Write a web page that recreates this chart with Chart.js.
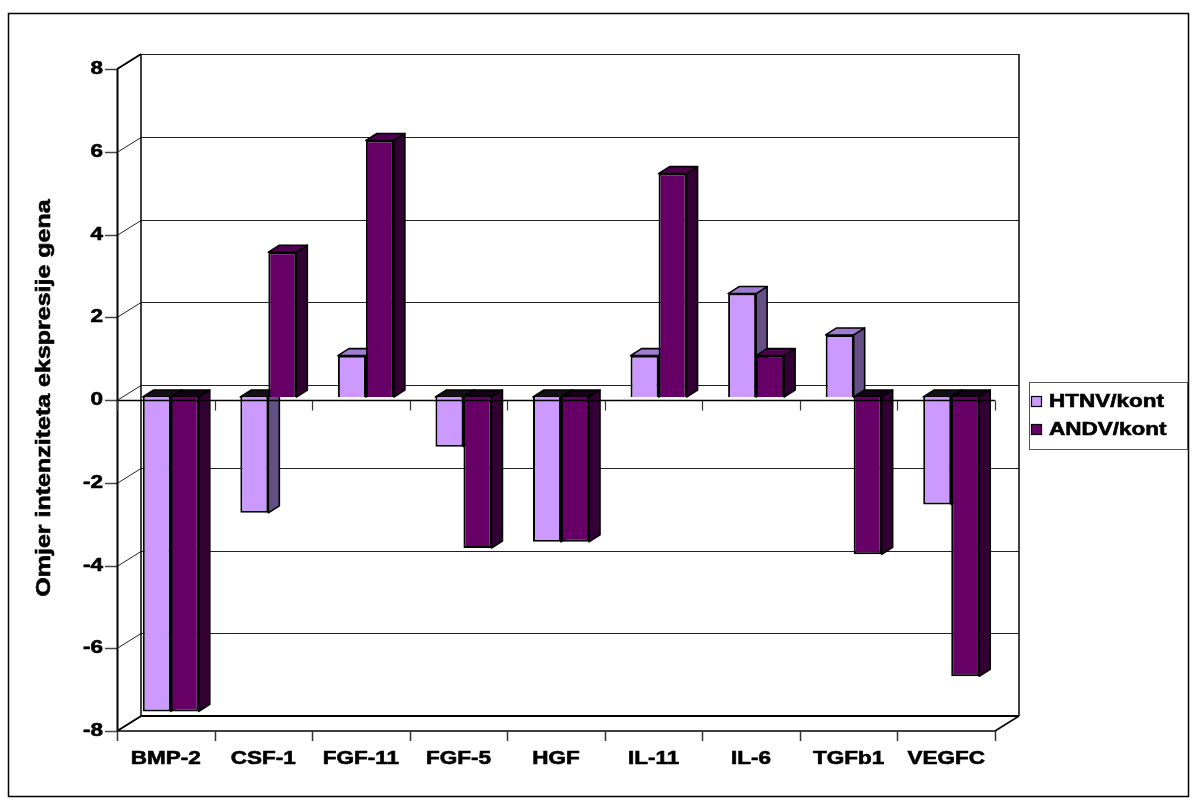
<!DOCTYPE html>
<html lang="hr">
<head>
  <meta charset="UTF-8">
  <title>Omjer intenziteta ekspresije gena</title>
  <script src="https://cdn.jsdelivr.net/npm/chart.js"></script>
  <style>
    body {
      margin: 0;
      padding: 0;
      background: #fff;
    }
    canvas {
      display: block;
    }
  </style>
</head>
<body>
  <canvas id="geneChart" width="1195" height="808"></canvas>

  <script>
    // data
    const categories = ['BMP-2', 'CSF-1', 'FGF-11', 'FGF-5', 'HGF', 'IL-11', 'IL-6', 'TGFb1', 'VEGFC'];
    const htnvValues = [-7.6, -2.8, 1.0, -1.2, -3.5, 1.0, 2.5, 1.5, -2.6];
    const andvValues = [-7.6, 3.5, 6.2, -3.65, -3.5, 5.4, 1.0, -3.8, -6.75];
    const yTicks = [8, 6, 4, 2, 0, -2, -4, -6, -8];
    const seriesNames = ['HTNV/kont', 'ANDV/kont'];
    const yTitle = 'Omjer intenziteta ekspresije gena';

    // 3d look: front plane -> back wall, bar plane, bar depth
    const wall = { dx: 24, dy: -15 };
    const barShift = { dx: 5, dy: -3 };
    const depth = { dx: 11, dy: -7 };

    const faces = [
      { front: '#CC99FF', top: '#A07BD2', side: '#645084', under: '#151015' },
      { front: '#660066', top: '#4E004E', side: '#330033', under: '#140014' }
    ];

    const FONT = '"Liberation Sans", Arial, sans-serif';

    // excel stretched its bold font sideways, so do the same
    function wideText(ctx, text, x, y, align, size) {
      ctx.save();
      ctx.translate(x, y);
      ctx.scale(1.25, 1);
      ctx.font = 'bold ' + size + 'px ' + FONT;
      ctx.fillStyle = '#000';
      ctx.strokeStyle = '#000';
      ctx.lineWidth = 0.6;
      ctx.textAlign = align;
      ctx.textBaseline = 'middle';
      ctx.fillText(text, 0, 0);
      ctx.strokeText(text, 0, 0);
      ctx.restore();
    }

    function line(ctx, x1, y1, x2, y2, w, color) {
      ctx.beginPath();
      ctx.moveTo(x1, y1);
      ctx.lineTo(x2, y2);
      ctx.lineWidth = w || 1;
      ctx.strokeStyle = color || '#000';
      ctx.stroke();
    }

    function poly(ctx, pts, fill) {
      ctx.beginPath();
      ctx.moveTo(pts[0][0], pts[0][1]);
      for (let i = 1; i < pts.length; i++) ctx.lineTo(pts[i][0], pts[i][1]);
      ctx.closePath();
      ctx.fillStyle = fill;
      ctx.fill();
      ctx.lineWidth = 1.6;
      ctx.strokeStyle = '#000';
      ctx.lineJoin = 'round';
      ctx.stroke();
    }

    const box3d = {
      id: 'box3d',
      beforeDraw(chart) {
        const ctx = chart.ctx;
        ctx.save();
        ctx.fillStyle = '#fff';
        ctx.fillRect(0, 0, chart.width, chart.height);
        ctx.lineWidth = 1.5;
        ctx.strokeStyle = '#000';
        ctx.strokeRect(8.5, 13.5, 1180, 783);
        ctx.restore();
      },
      beforeDatasetsDraw(chart) {
        const ctx = chart.ctx;
        const { left, right, top, bottom } = chart.chartArea;
        const ys = chart.scales.y;
        const xs = chart.scales.x;
        ctx.save();

        // back wall gridlines, side wall lines, y ticks and labels
        yTicks.forEach(v => {
          const py = Math.round(ys.getPixelForValue(v)) + 0.5;
          line(ctx, left + wall.dx, py + wall.dy, right + wall.dx, py + wall.dy, 1, '#222');
          line(ctx, left, py, left + wall.dx, py + wall.dy, 1, '#222');
          line(ctx, left - 12, py, left, py, 1.5, '#444');
          wideText(ctx, String(v), 103, py, 'right', 18);
        });

        // walls and floor edges
        line(ctx, left + wall.dx, top + wall.dy, left + wall.dx, bottom + wall.dy, 1.5);
        line(ctx, right + wall.dx, top + wall.dy, right + wall.dx, bottom + wall.dy, 1.5);
        line(ctx, left + wall.dx, bottom + wall.dy, right + wall.dx, bottom + wall.dy, 2);
        line(ctx, left, bottom, right, bottom, 1.5);
        line(ctx, left, bottom, left + wall.dx, bottom + wall.dy, 1.5);
        line(ctx, right, bottom, right + wall.dx, bottom + wall.dy, 1.5);
        line(ctx, left, top, left + wall.dx, top + wall.dy, 1.5);
        line(ctx, left + 0.5, top, left + 0.5, bottom, 2);

        // category ticks and labels under the floor
        const step = (right - left) / categories.length;
        for (let i = 0; i <= categories.length; i++) {
          const px = Math.round(left + i * step) + 0.5;
          line(ctx, px, bottom, px, bottom + 10, 1.5, '#333');
        }
        categories.forEach((c, i) => {
          wideText(ctx, c, xs.getPixelForValue(i), bottom + 28, 'center', 18);
        });

        // y title
        ctx.save();
        ctx.translate(44, 398);
        ctx.rotate(-Math.PI / 2);
        wideText(ctx, yTitle, 0, 0, 'center', 20);
        ctx.restore();

        // legend
        ctx.lineWidth = 1;
        ctx.strokeStyle = '#555';
        ctx.strokeRect(1029.5, 382.5, 158, 67);
        chart.data.datasets.forEach((ds, i) => {
          const ly = 402 + i * 28;
          ctx.fillStyle = ds.backgroundColor;
          ctx.fillRect(1031.5, ly - 5.5, 10, 10);
          ctx.lineWidth = 1.2;
          ctx.strokeStyle = '#000';
          ctx.strokeRect(1031.5, ly - 5.5, 10, 10);
          wideText(ctx, ds.label, 1049, ly, 'left', 18);
        });

        ctx.restore();

        // bars sit a bit behind the front plane
        ctx.save();
        ctx.translate(barShift.dx, barShift.dy);
        chart.data.datasets.forEach((ds, di) => {
          const f = faces[di];
          chart.getDatasetMeta(di).data.forEach((el, j) => {
            const l = el.x - el.width / 2;
            const r = el.x + el.width / 2;
            const t = Math.min(el.y, el.base);
            const b = Math.max(el.y, el.base);
            poly(ctx, [[r, t], [r + depth.dx, t + depth.dy], [r + depth.dx, b + depth.dy], [r, b]], f.side);
            const topColor = ds.data[j] < 0 ? f.under : f.top;
            poly(ctx, [[l, t], [l + depth.dx, t + depth.dy], [r + depth.dx, t + depth.dy], [r, t]], topColor);
          });
        });
      },
      afterDatasetsDraw(chart) {
        const ctx = chart.ctx;
        ctx.restore();
        const { left, right } = chart.chartArea;
        const y0 = Math.round(chart.scales.y.getPixelForValue(0)) + 0.5;
        ctx.save();
        line(ctx, left, y0, right, y0, 1.5);
        const step = (right - left) / categories.length;
        for (let i = 0; i <= categories.length; i++) {
          const px = Math.round(left + i * step) + 0.5;
          line(ctx, px, y0, px, y0 + 10, 1.2, '#333');
        }
        ctx.restore();
      }
    };

    new Chart(document.getElementById('geneChart'), {
      type: 'bar',
      data: {
        labels: categories,
        datasets: [
          {
            label: seriesNames[0],
            data: htnvValues,
            backgroundColor: faces[0].front,
            borderColor: '#000',
            borderWidth: 2,
            clip: false
          },
          {
            label: seriesNames[1],
            data: andvValues,
            backgroundColor: faces[1].front,
            borderColor: '#000',
            borderWidth: 2,
            clip: false
          }
        ]
      },
      options: {
        responsive: false,
        animation: false,
        devicePixelRatio: 1,
        layout: { padding: { left: 117, right: 200, top: 69, bottom: 77 } },
        datasets: {
          bar: { categoryPercentage: 0.574, barPercentage: 1 }
        },
        scales: {
          x: { display: false, offset: true },
          y: { display: false, min: -8, max: 8 }
        },
        plugins: {
          legend: { display: false },
          tooltip: { enabled: false }
        }
      },
      plugins: [box3d]
    });
  </script>
</body>
</html>
